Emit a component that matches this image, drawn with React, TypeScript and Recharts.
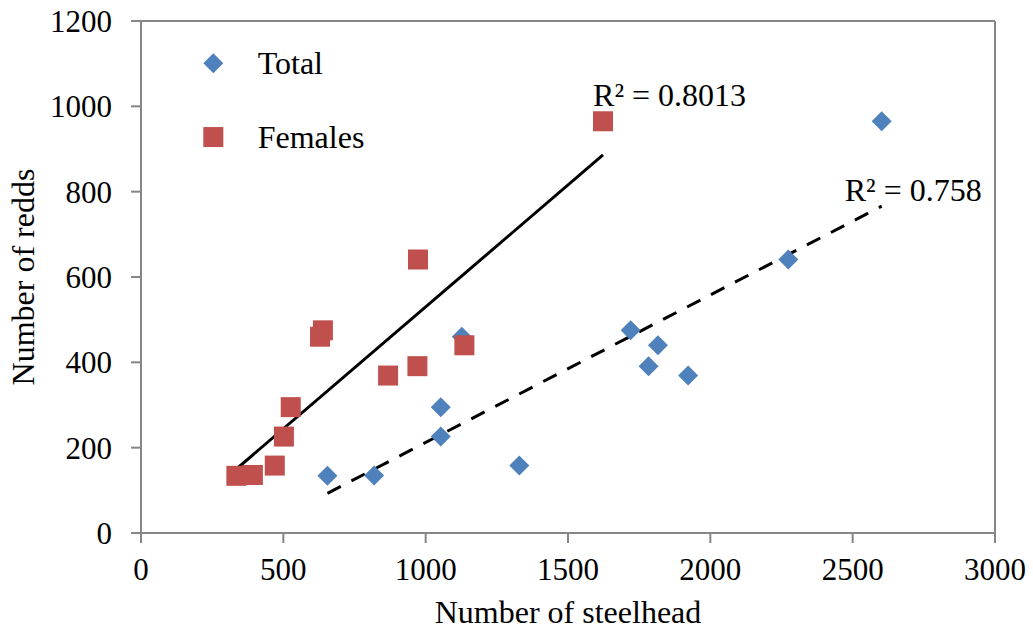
import React from "react";
import {
  ReferenceDot,
  ReferenceLine,
  Scatter,
  ScatterChart,
  XAxis,
  YAxis,
} from "recharts";

// Number of steelhead vs number of redds
const totalFish = [655, 819, 1053, 1053, 1127, 1329, 1720, 1816, 1783, 1922, 2274, 2602];
const totalRedds = [134, 135, 226, 295, 460, 158, 475, 440, 391, 369, 641, 965];

const femaleFish = [335, 393, 470, 502, 526, 629, 639, 868, 971, 973, 1136, 1623];
const femaleRedds = [134, 136, 158, 226, 295, 460, 475, 369, 391, 641, 440, 965];

// linear trend lines (start / end)
const femaleTrend = [
  { x: 335, y: 150 },
  { x: 1623, y: 886 },
];
const totalTrend = [
  { x: 655, y: 93 },
  { x: 2602, y: 766 },
];

const xTicks = [0, 500, 1000, 1500, 2000, 2500, 3000];
const yTicks = [0, 200, 400, 600, 800, 1000, 1200];

const BLUE = "#4F81BD";
const RED = "#C0504D";
const AXIS = "#868686";
const FONT = "'Liberation Serif', 'Times New Roman', serif";
const TICK_FS = 31;
const FS = 32;

const totalData = totalFish.map((x, i) => ({ x, y: totalRedds[i] }));
const femaleData = femaleFish.map((x, i) => ({ x, y: femaleRedds[i] }));

const Diamond = (props: any) => {
  const { cx, cy } = props;
  const r = 10;
  return (
    <path
      d={`M${cx},${cy - r}L${cx + r},${cy}L${cx},${cy + r}L${cx - r},${cy}Z`}
      fill={BLUE}
    />
  );
};

const Square = (props: any) => {
  const { cx, cy } = props;
  const s = 20;
  return <rect x={cx - s / 2} y={cy - s / 2} width={s} height={s} fill={RED} />;
};

const plainLabel = (text: string) => (props: any) => {
  const { viewBox } = props;
  return (
    <text
      x={viewBox.x}
      y={viewBox.y}
      dy="0.35em"
      fontFamily={FONT}
      fontSize={FS}
      fill="#000"
    >
      {text}
    </text>
  );
};

export default function App() {
  return (
    <div style={{ position: "absolute", left: 0, top: 0, background: "#fff" }}>
      <ScatterChart
        width={1033}
        height={634}
        margin={{ top: 21, right: 38, left: 0, bottom: 0 }}
      >
        <XAxis
          type="number"
          dataKey="x"
          domain={[0, 3000]}
          ticks={xTicks}
          interval={0}
          height={101}
          stroke={AXIS}
          strokeWidth={2}
          tickSize={10}
          tickMargin={15}
          tick={{ fontSize: TICK_FS, fontFamily: FONT, fill: "#000" }}
          label={{
            value: "Number of steelhead",
            position: "insideBottom",
            offset: 11,
            style: { fontSize: FS, fontFamily: FONT, fill: "#000" },
          }}
        />
        <YAxis
          type="number"
          dataKey="y"
          domain={[0, 1200]}
          ticks={yTicks}
          interval={0}
          width={141}
          stroke={AXIS}
          strokeWidth={2}
          tickSize={10}
          tickMargin={19}
          tick={{ fontSize: TICK_FS, fontFamily: FONT, fill: "#000" }}
          label={{
            value: "Number of redds",
            angle: -90,
            position: "insideLeft",
            offset: 23,
            style: { fontSize: FS, fontFamily: FONT, fill: "#000", textAnchor: "middle" },
          }}
        />
        <ReferenceLine y={1200} stroke={AXIS} strokeWidth={2} />
        <ReferenceLine x={3000} stroke={AXIS} strokeWidth={2} />

        <ReferenceLine
          segment={femaleTrend}
          stroke="#000"
          strokeWidth={3}
          ifOverflow="visible"
        />
        <ReferenceLine
          segment={totalTrend}
          stroke="#000"
          strokeWidth={3}
          strokeDasharray="15 12"
          ifOverflow="visible"
        />

        <Scatter
          name="Total"
          data={totalData}
          shape={<Diamond />}
          isAnimationActive={false}
        />
        <Scatter
          name="Females"
          data={femaleData}
          shape={<Square />}
          isAnimationActive={false}
        />

        <ReferenceDot
          x={1588}
          y={1026}
          r={0}
          ifOverflow="visible"
          label={plainLabel("R² = 0.8013")}
        />
        <ReferenceDot
          x={2472}
          y={804}
          r={0}
          ifOverflow="visible"
          label={plainLabel("R² = 0.758")}
        />

        {/* legend inside the plot area */}
        <ReferenceDot x={254} y={1101} r={0} ifOverflow="visible" shape={Diamond} />
        <ReferenceDot x={254} y={928} r={0} ifOverflow="visible" shape={Square} />
        <ReferenceDot x={410} y={1103} r={0} ifOverflow="visible" label={plainLabel("Total")} />
        <ReferenceDot x={410} y={928} r={0} ifOverflow="visible" label={plainLabel("Females")} />
      </ScatterChart>
    </div>
  );
}
